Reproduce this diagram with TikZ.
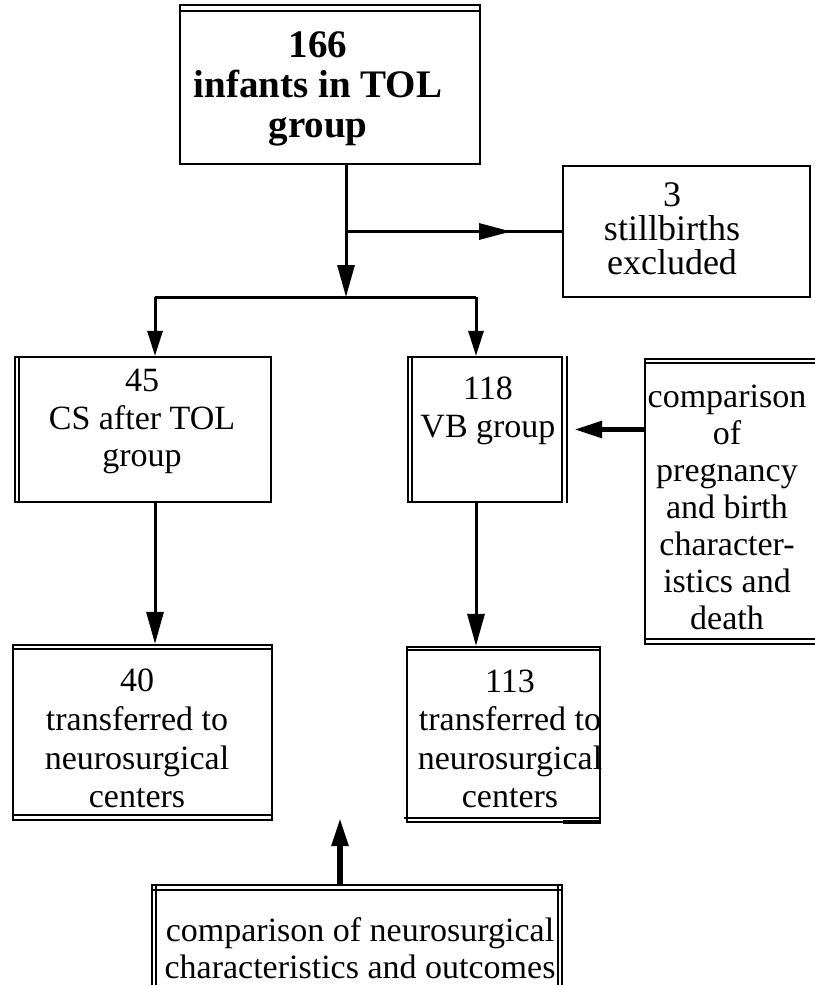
\documentclass[tikz,border=0pt]{standalone}
\usepackage{fontspec}
\setmainfont{Liberation Serif}
\usetikzlibrary{arrows.meta,decorations.markings}
\begin{document}
\begin{tikzpicture}[x=1pt,y=-1pt,
  box/.style={draw, line width=2.2pt, rectangle, inner sep=0pt},
  rule/.style={line width=1.5pt},
  txt/.style={align=center, inner sep=0pt, font=\fontsize{34}{38.5}\selectfont},
  conn/.style={line width=3pt},
  fat/.style={line width=5.5pt},
  tipL/.style={-{Triangle[length=32pt,width=17pt]}},
  tipS/.style={-{Triangle[length=25pt,width=15pt]}},
  tipF/.style={-{Triangle[length=28pt,width=16pt]}},
  midarrow/.style={postaction={decorate}, decoration={markings,
      mark=at position 0.765 with {\arrow{Triangle[length=32pt,width=16pt]}}}}
]
\useasboundingbox (0,0) rectangle (814,985);

% ---- boxes ----
\node[box, minimum width=300pt, minimum height=159pt] (top) at (330,84.5) {};
\draw[rule] ([yshift=-7pt]top.north west) -- ([yshift=-7pt]top.north east);
\node[txt, font=\bfseries\fontsize{39}{40}\selectfont] (toptext) at (318,89)
  {166\\infants in TOL\\group};

\node[box, minimum width=247pt, minimum height=131pt] (still) at (686.5,231.5) {};
\node[txt, font=\fontsize{36}{34}\selectfont] (stilltext) at (672,229)
  {3\\stillbirths\\excluded};

\node[box, minimum width=256pt, minimum height=145pt] (cs) at (143,429.5) {};
\draw[rule] ([xshift=5pt]cs.north west) -- ([xshift=5pt]cs.south west);
\node[txt, font=\fontsize{34}{37.5}\selectfont] (cstext) at (142,421.5)
  {45\\CS after TOL\\group};

\node[box, minimum width=154pt, minimum height=145pt] (vb) at (485,429.5) {};
\draw[rule] ([xshift=5pt]vb.north west) -- ([xshift=5pt]vb.south west);
\draw[rule] ([xshift=4pt]vb.north east) -- ([xshift=4pt]vb.south east);
\node[txt, font=\fontsize{34}{38}\selectfont] (vbtext) at (488,411)
  {118\\VB group};

\node[box, minimum width=185pt, minimum height=285pt] (cmpR) at (737.5,501.5) {};
\draw[rule] ([yshift=-5pt]cmpR.north west) -- ([yshift=-5pt]cmpR.north east);
\draw[rule] ([yshift=6pt]cmpR.south west) -- ([yshift=6pt]cmpR.south east);
\node[txt, font=\fontsize{34}{37}\selectfont] (cmpRtext) at (727,507.5)
  {comparison\\of\\pregnancy\\and birth\\character-\\istics and\\death};

\node[box, minimum width=259pt, minimum height=175pt] (b40) at (142.5,732.5) {};
\draw[rule] ([yshift=-5pt]b40.north west) -- ([yshift=-5pt]b40.north east);
\draw[rule] ([yshift=6pt]b40.south west) -- ([yshift=6pt]b40.south east);
\node[txt, font=\fontsize{34}{38.7}\selectfont] (b40text) at (137,738.5)
  {40\\transferred to\\neurosurgical\\centers};

\node[box, minimum width=193pt, minimum height=175pt] (b113) at (503.5,734.5) {};
\draw[rule] ([yshift=-4pt]b113.north west) -- ([yshift=-4pt]b113.north east);
\draw[rule] ([xshift=-2pt,yshift=5pt]b113.south west) -- ([xshift=-2pt,yshift=5pt]b113.south east);
\draw[line width=4pt] ([xshift=-38pt,yshift=1pt]b113.south east) -- ([yshift=1pt]b113.south east);
\node[txt, font=\fontsize{34}{38.5}\selectfont] (b113text) at (510,739)
  {113\\transferred to\\neurosurgical\\centers};

\node[box, minimum width=410pt, minimum height=130pt] (cmpB) at (357,950) {};
\draw[rule] ([yshift=-6pt]cmpB.north west) -- ([yshift=-6pt]cmpB.north east);
\draw[rule] ([xshift=5pt]cmpB.north west) -- ([xshift=5pt]cmpB.south west);
\draw[rule] ([xshift=-5pt]cmpB.north east) -- ([xshift=-5pt]cmpB.south east);
\node[txt, font=\fontsize{34}{37}\selectfont] (cmpBtext) at (360,948)
  {comparison of neurosurgical\\characteristics and outcomes};

% ---- connectors ----
\coordinate (trunk) at ([xshift=16pt]top.south);
\coordinate (split) at (346,231.5);
\coordinate (fork) at (346,297);
\coordinate (forkL) at (155,297);
\coordinate (forkR) at (476,297);
\coordinate (uptip) at (340,818);

\draw[conn] (trunk) -- (split);
\draw[conn, midarrow] (split) -- (still.west);
\draw[conn, tipL] (split) -- (fork);
\draw[conn] (forkL) -- (forkR);
\draw[conn, tipS] (forkL) -- (forkL |- cs.north);
\draw[conn, tipS] (forkR) -- (forkR |- vb.north);
\draw[conn, tipL] (forkL |- cs.south) -- (forkL |- b40.north);
\draw[conn, tipL] (forkR |- vb.south) -- (forkR |- b113.north);
\draw[fat, tipF] (cmpR.west |- vb.center) -- ([xshift=11pt]vb.east);
\draw[fat, tipF] (uptip |- cmpB.north) -- (uptip);
\end{tikzpicture}
\end{document}
